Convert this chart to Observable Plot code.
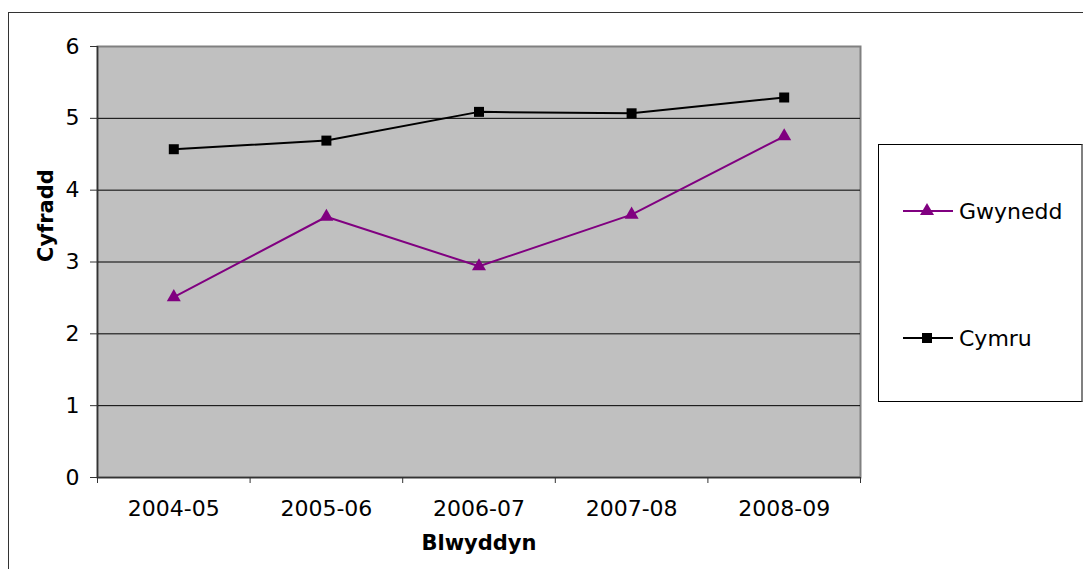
<!DOCTYPE html>
<html>
<head>
<meta charset="utf-8">
<script src="https://cdn.jsdelivr.net/npm/d3@7"></script>
<script src="https://cdn.jsdelivr.net/npm/@observablehq/plot@0.6"></script>
<style>
  html, body { margin: 0; padding: 0; background: #fff; overflow: hidden; }
  #wrap { position: relative; width: 1083px; height: 569px; overflow: hidden; font-family: "DejaVu Sans", Verdana, sans-serif; }
  #outer { position: absolute; left: 8px; top: 12px; width: 2000px; height: 2000px; border-left: 1.5px solid #333; border-top: 1.5px solid #333; }
  #chart { position: absolute; left: 0; top: 0; }
  #legend { position: absolute; left: 878px; top: 144px; width: 202px; height: 256px; border: 1px solid #000; border-right: 2px solid #808080; background: #fff; }
  .item { position: absolute; left: 24px; height: 30px; display: flex; align-items: center; font-size: 22px; color: #000; }
  .item svg { margin-right: 6px; }
</style>
</head>
<body>
<div id="wrap">
  <div id="outer"></div>
  <div id="chart"></div>
  <div id="legend"></div>
</div>
<script>
const categories = ["2004-05", "2005-06", "2006-07", "2007-08", "2008-09"];
const gwynedd = [2.51, 3.63, 2.94, 3.66, 4.75];
const cymru = [4.57, 4.69, 5.09, 5.07, 5.29];
const yTicks = [0, 1, 2, 3, 4, 5, 6];
const seriesNames = ["Gwynedd", "Cymru"];
const seriesColors = ["#800080", "#000000"];
const seriesSymbols = ["triangle", "square"];
const xTitle = "Blwyddyn";
const yTitle = "Cyfradd";

const toRows = (vals, name) => categories.map((c, i) => ({pos: i + 0.5, cat: c, value: vals[i], series: name}));
const rowsG = toRows(gwynedd, seriesNames[0]);
const rowsC = toRows(cymru, seriesNames[1]);
const catPos = categories.map((c, i) => i + 0.5);
const boundaries = d3.range(categories.length + 1);
const gridVals = yTicks.filter(v => v > yTicks[0] && v < yTicks[yTicks.length - 1]);

const chart = Plot.plot({
  width: 1083,
  height: 569,
  marginLeft: 97,
  marginRight: 223,
  marginTop: 46,
  marginBottom: 92,
  style: {fontFamily: "DejaVu Sans, Verdana, sans-serif", fontSize: "22px", background: "transparent", color: "#000", overflow: "visible"},
  x: {type: "linear", domain: [0, categories.length], axis: null},
  y: {domain: [yTicks[0], yTicks[yTicks.length - 1]], axis: null},
  marks: [
    Plot.frame({fill: "#c0c0c0", stroke: "#808080", strokeWidth: 2}),
    Plot.ruleY(gridVals, {stroke: "#000", strokeWidth: 1}),
    Plot.ruleY([yTicks[0]], {stroke: "#333", strokeWidth: 1.5}),
    Plot.ruleX([0], {stroke: "#333", strokeWidth: 1.5}),
    Plot.axisY({ticks: yTicks, tickSize: 7, tickPadding: 11, fontSize: 22, label: null, stroke: "#333", tickFormat: d => String(d)}),
    Plot.axisX({ticks: catPos, tickSize: 0, tickPadding: 23, fontSize: 22, label: null, tickFormat: d => categories[Math.round(d - 0.5)]}),
    Plot.axisX({ticks: boundaries, tickSize: 6, tickFormat: () => "", label: null, stroke: "#333"}),
    Plot.line(rowsC, {x: "pos", y: "value", stroke: seriesColors[1], strokeWidth: 2}),
    Plot.line(rowsG, {x: "pos", y: "value", stroke: seriesColors[0], strokeWidth: 2}),
    Plot.dot(rowsC, {x: "pos", y: "value", symbol: seriesSymbols[1], fill: seriesColors[1], r: 5.64}),
    Plot.dot(rowsG, {x: "pos", y: "value", symbol: seriesSymbols[0], fill: seriesColors[0], r: 5.2}),
    Plot.text([xTitle], {frameAnchor: "bottom", dy: 66, fontSize: 21, fontWeight: "bold", lineAnchor: "middle"}),
    Plot.text([yTitle], {frameAnchor: "left", dx: -51, rotate: -90, fontSize: 21, fontWeight: "bold", lineAnchor: "middle"})
  ]
});
document.getElementById("chart").appendChild(chart);

// Legend
const legend = d3.select("#legend");
const symArea = {triangle: 85, square: 100};
const symType = {triangle: d3.symbolTriangle, square: d3.symbolSquare};
const itemTops = [51, 178];
seriesNames.forEach((name, i) => {
  const item = legend.append("div").attr("class", "item").style("top", itemTops[i] + "px");
  const svg = item.append("svg").attr("width", 50).attr("height", 30);
  svg.append("line").attr("x1", 0).attr("x2", 50).attr("y1", 15).attr("y2", 15)
     .attr("stroke", seriesColors[i]).attr("stroke-width", 2);
  svg.append("path").attr("transform", "translate(24,15)")
     .attr("d", d3.symbol(symType[seriesSymbols[i]], symArea[seriesSymbols[i]])())
     .attr("fill", seriesColors[i]);
  item.append("span").text(name);
});
</script>
</body>
</html>
